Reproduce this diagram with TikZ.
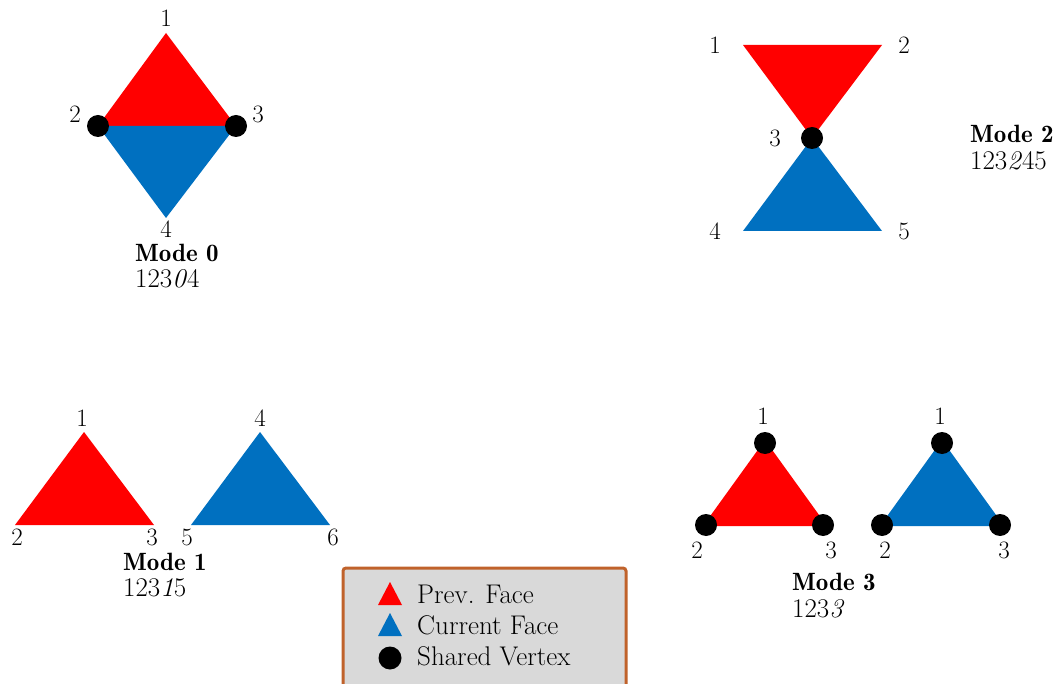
\documentclass[tikz,border=0pt]{standalone}
\usepackage{tikz}
\definecolor{prevred}{HTML}{FF0000}
\definecolor{currblue}{HTML}{0070C0}
\definecolor{legbrown}{HTML}{C0622B}
\definecolor{leggray}{HTML}{D9D9D9}
\tikzset{
  prevface/.style={fill=prevred},
  currface/.style={fill=currblue},
  shared/.style={circle, fill=black, inner sep=0pt, minimum size=22pt},
  lbl/.style={font=\fontsize{25}{28}\selectfont, inner sep=0pt},
  modetitle/.style={font=\fontsize{25}{28}\fontseries{b}\selectfont, inner sep=0pt, anchor=base west},
  modecode/.style={font=\fontsize{27}{30}\selectfont, inner sep=0pt, anchor=base west},
  legtext/.style={font=\fontsize{27}{30}\selectfont, inner sep=0pt, anchor=base west},
}
\begin{document}
\begin{tikzpicture}[x=1pt,y=-1pt]
\useasboundingbox (0,0) rectangle (1060,684);

% ---------- Mode 0 ----------
\coordinate (a1) at (166,33);
\coordinate (a2) at (98,126);
\coordinate (a3) at (236,126);
\coordinate (a4) at (166,218);
\fill[prevface] (a1) -- (a2) -- (a3) -- cycle;
\fill[currface] (a2) -- (a3) -- (a4) -- cycle;
\node[shared] (a2d) at (a2) {};
\node[shared] (a3d) at (a3) {};
\node[lbl] (a1l) at (166,18) {1};
\node[lbl] (a2l) at (75,114) {2};
\node[lbl] (a3l) at (258,114) {3};
\node[lbl] (a4l) at (166,229) {4};
\node[modetitle] (m0t) at (135,262) {Mode 0};
\node[modecode] (m0c) at (135,288) {123\textit{0}4};

% ---------- Mode 2 ----------
\coordinate (b1) at (743,45);
\coordinate (b2) at (882,45);
\coordinate (b3) at (812,138);
\coordinate (b4) at (743,231);
\coordinate (b5) at (882,231);
\fill[prevface] (b1) -- (b2) -- (b3) -- cycle;
\fill[currface] (b3) -- (b4) -- (b5) -- cycle;
\node[shared] (b3d) at (b3) {};
\node[lbl] (b1l) at (715,45) {1};
\node[lbl] (b2l) at (904,45) {2};
\node[lbl] (b3l) at (775,138) {3};
\node[lbl] (b4l) at (715,231) {4};
\node[lbl] (b5l) at (904,231) {5};
\node[modetitle] (m2t) at (970,143) {Mode 2};
\node[modecode] (m2c) at (970,170) {123\textit{2}45};

% ---------- Mode 1 ----------
\coordinate (c1) at (84,432);
\coordinate (c2) at (15,525);
\coordinate (c3) at (154,525);
\coordinate (c4) at (260,432);
\coordinate (c5) at (191,525);
\coordinate (c6) at (330,525);
\fill[prevface] (c1) -- (c2) -- (c3) -- cycle;
\fill[currface] (c4) -- (c5) -- (c6) -- cycle;
\node[lbl] (c1l) at (82,418) {1};
\node[lbl] (c2l) at (17,537) {2};
\node[lbl] (c3l) at (152,537) {3};
\node[lbl] (c4l) at (260,418) {4};
\node[lbl] (c5l) at (187,537) {5};
\node[lbl] (c6l) at (333,537) {6};
\node[modetitle] (m1t) at (123,570) {Mode 1};
\node[modecode] (m1c) at (123,596) {123\textit{1}5};

% ---------- Mode 3 ----------
\coordinate (d1) at (765,440);
\coordinate (d2) at (703,526);
\coordinate (d3) at (827,526);
\coordinate (e1) at (942,440);
\coordinate (e2) at (880,526);
\coordinate (e3) at (1004,526);
\fill[prevface] (d1) -- (d2) -- (d3) -- cycle;
\fill[currface] (e1) -- (e2) -- (e3) -- cycle;
\node[shared] (d1d) at (765,443) {};
\node[shared] (d2d) at (706,525) {};
\node[shared] (d3d) at (823,525) {};
\node[shared] (e1d) at (942,443) {};
\node[shared] (e2d) at (882,525) {};
\node[shared] (e3d) at (1000,525) {};
\node[lbl] (d1l) at (763,416) {1};
\node[lbl] (d2l) at (697,550) {2};
\node[lbl] (d3l) at (831,550) {3};
\node[lbl] (e1l) at (940,416) {1};
\node[lbl] (e2l) at (885,550) {2};
\node[lbl] (e3l) at (1004,550) {3};
\node[modetitle] (m3t) at (792,590) {Mode 3};
\node[modecode] (m3c) at (792,617) {123\textit{3}};

% ---------- Legend ----------
\draw[legbrown, line width=3pt, fill=leggray, rounded corners=3pt] (343,568) rectangle (626,710);
\fill[prevface] (390,582) -- (402,605) -- (378,605) -- cycle;
\fill[currface] (390,613) -- (402,636) -- (378,636) -- cycle;
\node[circle, fill=black, inner sep=0pt, minimum size=23pt] (lgdot) at (390,658) {};
\node[legtext] (lg1) at (417,603) {Prev. Face};
\node[legtext] (lg2) at (417,634) {Current Face};
\node[legtext] (lg3) at (417,665) {Shared Vertex};
\end{tikzpicture}
\end{document}
